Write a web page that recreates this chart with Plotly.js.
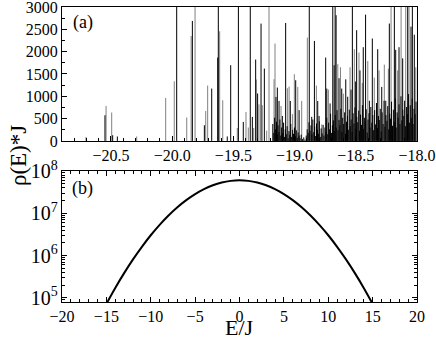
<!DOCTYPE html>
<html>
<head>
<meta charset="utf-8">
<script src="https://cdn.plot.ly/plotly-3.0.1.min.js"></script>
<style>
  html, body { margin: 0; padding: 0; background: #fff; }
  #myDiv { width: 436px; height: 342px; }
</style>
</head>
<body>
<div id="myDiv"></div>
<script>
// panel (a): isolated spikes, gray series
var grayE = [-20.704, -20.54, -20.494, -20.29, -20.053, -19.983, -19.881, -19.845, -19.813, -19.726,
  -19.71, -19.612, -19.587, -19.468, -19.397, -19.378, -19.334, -19.313, -19.291, -19.264,
  -19.228, -19.209, -19.168, -19.16, -19.111, -19.059, -19.045, -19.018, -19.002, -18.974,
  -18.942, -18.896, -18.822, -18.778, -18.724, -18.647, -18.625, -18.602, -18.547, -18.512,
  -18.474, -18.447, -18.402, -18.349, -18.31, -18.267, -18.234, -18.212, -18.158, -18.13,
  -18.092, -18.065, -18.01];
var grayH = [90, 784, 636, 100, 963, 1337, 524, 2350, 5000, 672,
  1241, 2457, 912, 291, 650, 300, 290, 1376, 820, 800,
  230, 5000, 1382, 2181, 784, 1180, 1218, 600, 1494, 1210,
  896, 2316, 1240, 370, 1150, 1720, 1650, 1060, 1650, 2055,
  1980, 1300, 1790, 1420, 1580, 1710, 1620, 5000, 1580, 5000,
  5000, 5000, 1650];

// panel (a): isolated spikes, black series
var blackE = [-20.549, -20.486, -20.448, -19.963, -19.835, -19.737, -19.677, -19.628, -19.623, -19.55,
  -19.522, -19.459, -19.419, -19.362, -19.345, -19.318, -19.302, -19.274, -19.247, -19.152,
  -19.141, -19.127, -19.1, -19.073, -19.035, -18.991, -18.963, -18.88, -18.86, -18.838,
  -18.811, -18.8, -18.746, -18.737, -18.71, -18.688, -18.677, -18.669, -18.661, -18.637,
  -18.615, -18.582, -18.566, -18.539, -18.528, -18.501, -18.493, -18.466, -18.439, -18.42,
  -18.389, -18.365, -18.321, -18.288, -18.255, -18.226, -18.185, -18.174, -18.147, -18.117,
  -18.076, -18.049, -18.038, -18.022];
var blackH = [575, 128, 100, 5000, 2688, 352, 1173, 1868, 5000, 100,
  1696, 5000, 426, 5000, 538, 1823, 1062, 2629, 1621, 986,
  1195, 896, 560, 2643, 896, 1360, 690, 5000, 540, 2240,
  896, 560, 1868, 1173, 840, 5000, 1696, 5000, 2816, 1405,
  1173, 1380, 990, 1150, 5000, 1330, 2480, 1580, 2100, 2830,
  900, 2294, 2055, 1210, 900, 2630, 5000, 2040, 2100, 1850,
  5000, 2560, 5000, 2380];

// panel (a): dense low spikes above -19.2
var grassE = [-19.178, -19.17, -19.163, -19.155, -19.148, -19.142, -19.135, -19.128, -19.12, -19.113,
  -19.106, -19.098, -19.09, -19.083, -19.076, -19.068, -19.061, -19.053, -19.046, -19.039,
  -19.031, -19.024, -19.016, -19.009, -19.001, -18.994, -18.986, -18.978, -18.971, -18.963,
  -18.955, -18.946, -18.935, -18.925, -18.915, -18.905, -18.897, -18.889, -18.882, -18.874,
  -18.866, -18.858, -18.851, -18.843, -18.836, -18.828, -18.821, -18.813, -18.806, -18.798,
  -18.79, -18.783, -18.775, -18.767, -18.76, -18.752, -18.744, -18.737, -18.729, -18.722,
  -18.714, -18.706, -18.699, -18.691, -18.683, -18.676, -18.668, -18.66, -18.653, -18.645,
  -18.637, -18.63, -18.622, -18.614, -18.607, -18.599, -18.591, -18.584, -18.576, -18.568,
  -18.561, -18.553, -18.545, -18.538, -18.53, -18.522, -18.515, -18.507, -18.499, -18.492,
  -18.484, -18.476, -18.469, -18.461, -18.453, -18.446, -18.438, -18.43, -18.423, -18.415,
  -18.407, -18.4, -18.392, -18.384, -18.377, -18.369, -18.361, -18.354, -18.346, -18.338,
  -18.331, -18.323, -18.315, -18.308, -18.3, -18.292, -18.285, -18.277, -18.269, -18.262,
  -18.254, -18.246, -18.239, -18.231, -18.223, -18.216, -18.208, -18.2, -18.193, -18.185,
  -18.177, -18.17, -18.162, -18.154, -18.147, -18.139, -18.131, -18.124, -18.116, -18.108,
  -18.101, -18.093, -18.085, -18.078, -18.07, -18.062, -18.055, -18.047, -18.039, -18.032,
  -18.024, -18.016, -18.008];
var grassH = [380, 180, 520, 260, 430, 140, 350, 200, 480, 120,
  300, 170, 410, 90, 260, 150, 330, 60, 220, 140,
  380, 90, 250, 160, 300, 110, 240, 70, 190, 120,
  60, 140, 40, 80, 30, 120, 260, 180, 420, 230,
  350, 150, 480, 200, 320, 110, 390, 250, 160, 440,
  90, 280, 170, 360, 120, 300, 200, 520, 150, 410,
  260, 610, 180, 350, 460, 220, 580, 300, 690, 240,
  470, 350, 720, 200, 520, 380, 640, 160, 430, 560,
  250, 700, 330, 480, 200, 620, 390, 750, 280, 540,
  420, 680, 230, 590, 360, 800, 270, 520, 440, 710,
  190, 480, 620, 300, 760, 410, 580, 240, 690, 370,
  850, 290, 560, 470, 720, 210, 640, 380, 900, 320,
  580, 450, 780, 260, 610, 500, 880, 340, 700, 420,
  950, 300, 640, 520, 820, 380, 1000, 460, 700, 560,
  900, 330, 760, 600, 1050, 410, 800, 520, 950, 380,
  720, 600, 880];

// panel (b): smoothed density of states
var bigE = [-15, -14, -13, -12, -11, -10, -9, -8, -7, -6, -5, -4, -3, -2, -1, 0,
  1, 2, 3, 4, 5, 6, 7, 8, 9, 10, 11, 12, 13, 14, 15];
var bigRho = [7.16e4, 1.71e5, 3.83e5, 8.09e5, 1.61e6, 3.02e6, 5.33e6, 8.87e6, 1.39e7, 2.05e7,
  2.85e7, 3.73e7, 4.60e7, 5.35e7, 5.85e7, 6.03e7,
  5.85e7, 5.35e7, 4.60e7, 3.73e7, 2.85e7, 2.05e7, 1.39e7, 8.87e6, 5.33e6, 3.02e6,
  1.61e6, 8.09e5, 3.83e5, 1.71e5, 7.16e4];

function spikes(es, hs) {
  var x = [], y = [];
  for (var i = 0; i < es.length; i++) {
    x.push(es[i], es[i], null);
    y.push(0, hs[i], null);
  }
  return {x: x, y: y};
}

var g = spikes(grayE, grayH),
    b = spikes(blackE, blackH),
    s = spikes(grassE, grassH);

var serif = "Liberation Serif";

var data = [
  {x: g.x, y: g.y, type: 'scatter', mode: 'lines', line: {color: '#808080', width: 1},
   xaxis: 'x', yaxis: 'y', hoverinfo: 'skip'},
  {x: s.x, y: s.y, type: 'scatter', mode: 'lines', line: {color: '#000', width: 1},
   xaxis: 'x', yaxis: 'y', hoverinfo: 'skip'},
  {x: b.x, y: b.y, type: 'scatter', mode: 'lines', line: {color: '#000', width: 1},
   xaxis: 'x', yaxis: 'y', hoverinfo: 'skip'},
  {x: bigE, y: bigRho, type: 'scatter', mode: 'lines', line: {color: '#000', width: 2, shape: 'spline'},
   xaxis: 'x2', yaxis: 'y2'}
];

var axBase = {
  showgrid: false, zeroline: false, showline: true, linecolor: '#000', linewidth: 1,
  ticks: 'inside', ticklen: 5, tickcolor: '#000', ticklabeloverflow: 'allow',
  tickfont: {family: serif, size: 16, color: '#000'}
};

var layout = {
  width: 436, height: 342,
  margin: {l: 62, r: 19, t: 7, b: 40},
  showlegend: false,
  font: {family: serif, color: '#000'},
  paper_bgcolor: '#fff', plot_bgcolor: '#fff',
  xaxis: Object.assign({}, axBase, {
    domain: [0, 1], anchor: 'y', range: [-20.9, -18.0], tick0: -18, dtick: 0.5,
    tickformat: '.1f', mirror: true,
    minor: {dtick: 0.1, ticks: 'inside', ticklen: 3, tickcolor: '#000'}
  }),
  yaxis: Object.assign({}, axBase, {
    domain: [0.546, 1], anchor: 'x', range: [0, 3000.5], dtick: 500, mirror: true,
    minor: {dtick: 250, ticks: 'inside', ticklen: 3, tickcolor: '#000'}
  }),
  xaxis2: Object.assign({}, axBase, {
    domain: [0, 1], anchor: 'y2', range: [-20, 20], dtick: 5, mirror: 'ticks',
    minor: {dtick: 1, ticks: 'inside', ticklen: 3, tickcolor: '#000'}
  }),
  yaxis2: Object.assign({}, axBase, {
    domain: [0, 0.444], anchor: 'x2', type: 'log', range: [4.9, 8.0005], dtick: 1,
    exponentformat: 'power', mirror: 'ticks',
    minor: {dtick: 'D1', ticks: 'inside', ticklen: 3, tickcolor: '#000'}
  }),
  annotations: [
    {text: '(a)', xref: 'paper', yref: 'paper', x: 0.058, y: 0.948, xanchor: 'center', yanchor: 'middle',
     showarrow: false, font: {family: serif, size: 18, color: '#000'}},
    {text: '(b)', xref: 'paper', yref: 'paper', x: 0.058, y: 0.385, xanchor: 'center', yanchor: 'middle',
     showarrow: false, font: {family: serif, size: 18, color: '#000'}},
    {text: 'ρ(E)*J', xref: 'paper', yref: 'paper', x: -0.124, y: 0.498, xanchor: 'center', yanchor: 'middle',
     textangle: -90, showarrow: false, font: {family: serif, size: 23, color: '#000'}},
    {text: 'E/J', xref: 'paper', yref: 'paper', x: 0.501, y: -0.086, xanchor: 'center', yanchor: 'middle',
     showarrow: false, font: {family: serif, size: 22, color: '#000'}}
  ]
};

Plotly.newPlot('myDiv', data, layout, {staticPlot: true});
</script>
</body>
</html>
